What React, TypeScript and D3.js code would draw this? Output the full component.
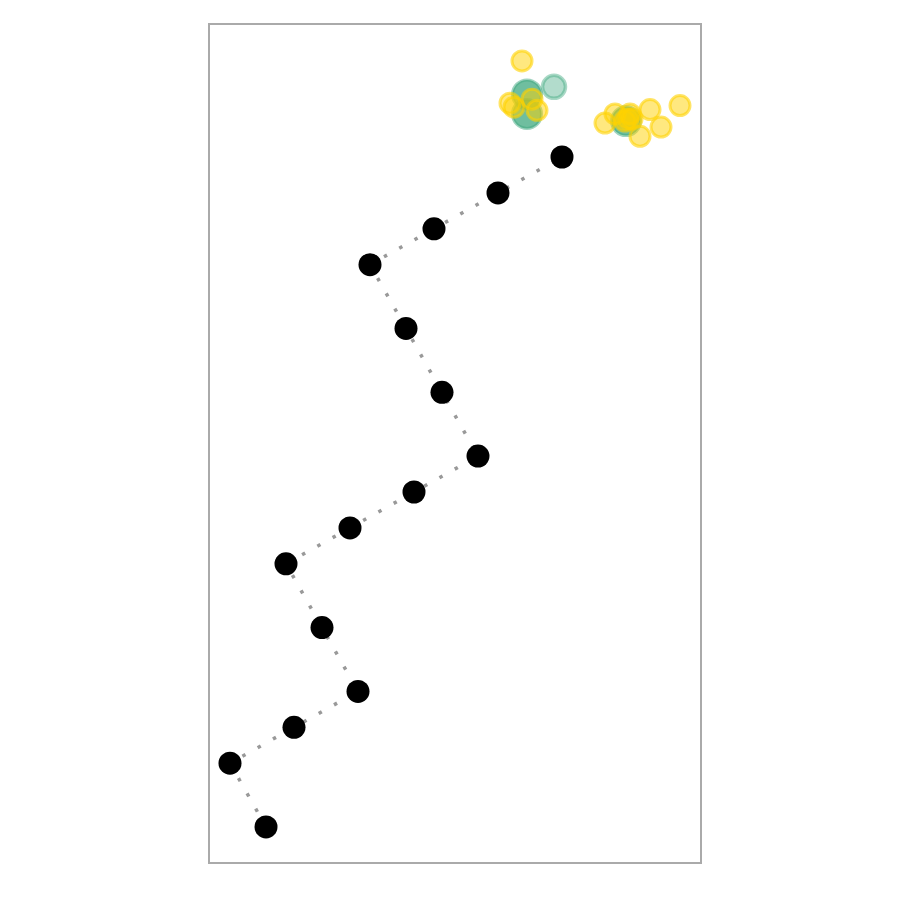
import React from "react";
import * as d3 from "d3";

// Walk path (data units)
const walkX = [9, 0, 16, 32, 23, 14, 30, 46, 62, 53, 44, 35, 51, 67, 83];
const walkY = [0, 16, 25, 34, 50, 66, 75, 84, 93, 109, 125, 141, 150, 159, 168];

// Cluster points
const greenX = [74.25, 74.25, 99];
const greenY = [183.7, 178.8, 177];
const lightGreenX = [81];
const lightGreenY = [185.6];
const yellowX = [73, 70, 71, 75.5, 76.75, 93.75, 96.25, 100, 98.75, 99.5, 100.5, 105, 112.5, 107.75, 102.5];
const yellowY = [192.1, 181.5, 180.5, 182.5, 179.7, 176.5, 178.8, 178.8, 177, 177.5, 177.5, 179.9, 180.9, 175.5, 173.2];

const W = 900, H = 900;
const left = 209, top = 24, right = 701, bottom = 863;

export default function App() {
  const x = d3.scaleLinear().domain([-5.25, 117.75]).range([left, right]);
  const y = d3.scaleLinear().domain([-9.03, 201.35]).range([bottom, top]);
  const walk = walkX.map((v, i) => [v, walkY[i]] as [number, number]);
  const line = d3.line<[number, number]>().x(d => x(d[0])).y(d => y(d[1]));
  const green = "#3fa87f";
  const gold = "#ffd200";
  return (
    <svg width={W} height={H} style={{ position: "absolute", left: 0, top: 0 }}>
      <rect x={0} y={0} width={W} height={H} fill="#fff" />
      <rect x={left} y={top} width={right - left} height={bottom - top} fill="none" stroke="#aaa" strokeWidth={2} />
      <path d={line(walk) || ""} fill="none" stroke="#999" strokeWidth={3.5} strokeDasharray="3.5,14" />
      {walk.map((d, i) => (
        <circle key={"w" + i} cx={x(d[0])} cy={y(d[1])} r={11.5} fill="#000" />
      ))}
      {greenX.map((v, i) => (
        <circle key={"g" + i} cx={x(v)} cy={y(greenY[i])} r={14.5} fill={green} fillOpacity={0.75} stroke={green} strokeOpacity={0.5} strokeWidth={3} />
      ))}
      {lightGreenX.map((v, i) => (
        <circle key={"lg" + i} cx={x(v)} cy={y(lightGreenY[i])} r={11.5} fill={green} fillOpacity={0.4} stroke={green} strokeOpacity={0.45} strokeWidth={3.5} />
      ))}
      {yellowX.map((v, i) => (
        <circle key={"y" + i} cx={x(v)} cy={y(yellowY[i])} r={10} fill={gold} fillOpacity={0.5} stroke={gold} strokeOpacity={0.6} strokeWidth={3} />
      ))}
    </svg>
  );
}
